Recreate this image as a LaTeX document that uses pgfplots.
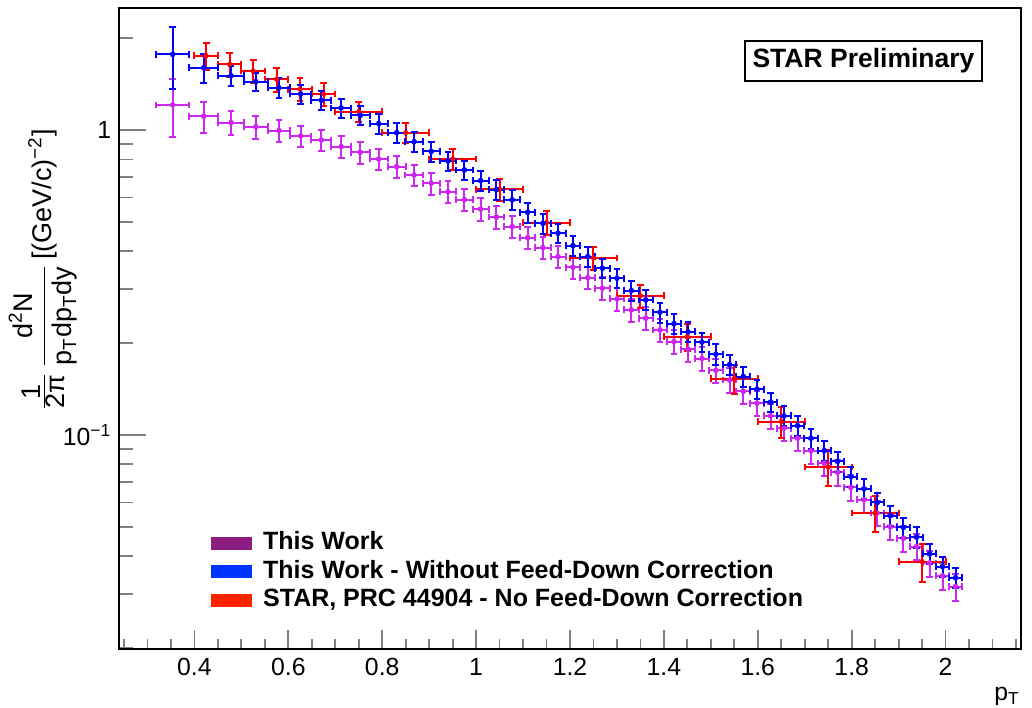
\documentclass[border=0pt]{standalone}
\usepackage{fontspec}
\setmainfont{Liberation Sans}
\usepackage{pgfplots}
\pgfplotsset{compat=1.18}
\definecolor{cpurple}{RGB}{204,40,240}
\definecolor{cblue}{RGB}{0,0,255}
\definecolor{cred}{RGB}{255,0,0}
\definecolor{lpurple}{RGB}{140,30,130}
\definecolor{lblue}{RGB}{0,51,255}
\definecolor{lred}{RGB}{255,34,0}
\begin{document}
\begin{tikzpicture}
\useasboundingbox (-59.65pt,-28.85pt) rectangle (456.35pt,324.65pt);
\begin{axis}[
  at={(0pt,0pt)}, anchor=south west,
  scale only axis, width=450.7pt, height=320.5pt,
  ymode=log,
  xmin=0.24, xmax=2.16, ymin=0.0198, ymax=2.506,
  axis line style={line width=1pt},
  tick align=inside, tick pos=left,
  xtick={0.4,0.6,0.8,1,1.2,1.4,1.6,1.8,2},
  minor xtick={0.25,0.3,0.35,0.45,0.5,0.55,0.65,0.7,0.75,0.85,0.9,0.95,1.05,1.1,1.15,1.25,1.3,1.35,1.45,1.5,1.55,1.65,1.7,1.75,1.85,1.9,1.95,2.05,2.1,2.15},
  ytick={0.1,1},
  yticklabels={10\textsuperscript{−1},1},
  minor ytick={0.02,0.03,0.04,0.05,0.06,0.07,0.08,0.09,0.2,0.3,0.4,0.5,0.6,0.7,0.8,0.9,2},
  xtick style={line width=0.9pt, /pgfplots/major tick length=9.5pt, /pgfplots/minor tick length=5pt},
  ytick style={line width=0.9pt, /pgfplots/major tick length=13.5pt, /pgfplots/minor tick length=6.7pt},
  /pgf/number format/assume math mode=true,
  tick label style={font=\fontsize{12.4pt}{14pt}\selectfont},
  xticklabel style={yshift=-1pt},
  yticklabel style={xshift=-0.5pt},
  xlabel={p\textsubscript{T}},
  xlabel style={at={(axis description cs:1,0)}, anchor=north east, font=\fontsize{12.4pt}{14pt}\selectfont, yshift=-15.5pt, xshift=3pt},
  ylabel={$\textstyle\frac{\mbox{1}}{\mbox{2π}}\,\displaystyle\frac{\mbox{d\textsuperscript{2}N}}{\mbox{p\textsubscript{T}dp\textsubscript{T}dy}}$\,[(GeV/c)\textsuperscript{−2}]},
  ylabel style={at={(axis description cs:-0.0846,0.8226)}, anchor=east, font=\fontsize{13.5pt}{16pt}\selectfont},
  legend style={at={(axis description cs:0.1017,0.1861)}, anchor=north west, draw=none, fill=none,
    font=\fontsize{12.5pt}{14pt}\selectfont\bfseries, row sep=1.85pt, column sep=5.5pt, inner sep=0pt,
    nodes={inner sep=0pt, text height=9.5pt, text depth=3pt}},
  legend cell align=left,
]
\addlegendimage{legend image code/.code={\fill[lpurple] (0pt,-3pt) rectangle (20pt,3pt);}}
\addlegendentry{This Work}
\addlegendimage{legend image code/.code={\fill[lblue] (0pt,-3pt) rectangle (20pt,3pt);}}
\addlegendentry{This Work - Without Feed-Down Correction}
\addlegendimage{legend image code/.code={\fill[lred] (0pt,-3pt) rectangle (20pt,3pt);}}
\addlegendentry{STAR, PRC 44904 - No Feed-Down Correction}

% purple: This Work
\addplot[forget plot, cpurple, only marks, mark=*, mark size=1.2pt,
  error bars/.cd, x dir=both, x explicit, y dir=both, y explicit,
  error bar style={line width=1pt},
  error mark options={rotate=90, mark size=1.7pt, line width=1pt}]
  table[x=x, y=y, x error=ex, y error=ey] {
x y ex ey
0.3537 1.208 0.0355 0.26
0.4198 1.109 0.0306 0.13
0.4779 1.057 0.0276 0.098
0.5309 1.025 0.0254 0.09
0.5800 0.995 0.0238 0.083
0.6263 0.956 0.0225 0.078
0.6704 0.927 0.0215 0.075
0.7125 0.882 0.0207 0.072
0.7532 0.845 0.0200 0.069
0.7925 0.803 0.0194 0.066
0.8307 0.758 0.0189 0.062
0.8680 0.712 0.0184 0.058
0.9044 0.669 0.0180 0.055
0.9401 0.627 0.0177 0.052
0.9751 0.591 0.0173 0.049
1.0095 0.550 0.0171 0.046
1.0434 0.518 0.0168 0.043
1.0768 0.482 0.0166 0.040
1.1098 0.4434 0.0164 0.037
1.1423 0.4112 0.0162 0.034
1.1745 0.3842 0.0160 0.032
1.2063 0.3547 0.0158 0.030
1.2378 0.3279 0.0157 0.028
1.2691 0.3027 0.0155 0.026
1.3000 0.2792 0.0154 0.024
1.3307 0.2570 0.0153 0.022
1.3612 0.2413 0.0152 0.021
1.3915 0.2209 0.0151 0.019
1.4215 0.2022 0.0150 0.018
1.4514 0.1910 0.0149 0.017
1.4811 0.1780 0.0148 0.016
1.5106 0.1628 0.0147 0.015
1.5399 0.1514 0.0146 0.014
1.5691 0.1390 0.0146 0.013
1.5982 0.1270 0.0145 0.012
1.6271 0.1154 0.0144 0.011
1.6559 0.1052 0.0144 0.0100
1.6846 0.0975 0.0143 0.0092
1.7132 0.0886 0.0143 0.0084
1.7416 0.0808 0.0142 0.0077
1.7699 0.0754 0.0141 0.0072
1.7982 0.0672 0.0141 0.0064
1.8263 0.0612 0.0141 0.0058
1.8544 0.0554 0.0140 0.0053
1.8824 0.0500 0.0140 0.0048
1.9103 0.0458 0.0139 0.0044
1.9381 0.0430 0.0139 0.0042
1.9658 0.0380 0.0139 0.0037
1.9935 0.0345 0.0138 0.0034
2.0211 0.0318 0.0138 0.0032
};

% red: STAR PRC
\addplot[forget plot, cred, only marks, mark=*, mark size=1.1pt,
  error bars/.cd, x dir=both, x explicit, y dir=both, y explicit,
  error bar style={line width=1pt},
  error mark options={rotate=90, mark size=1.7pt, line width=1pt}]
  table[x=x, y=y, x error=ex, y error=ey] {
x y ex ey
0.425 1.752 0.025 0.18
0.475 1.642 0.025 0.15
0.525 1.561 0.025 0.14
0.575 1.466 0.025 0.13
0.625 1.360 0.025 0.12
0.675 1.312 0.025 0.11
0.75 1.148 0.05 0.09
0.85 0.980 0.05 0.075
0.95 0.803 0.05 0.065
1.05 0.639 0.05 0.054
1.15 0.497 0.05 0.045
1.25 0.380 0.05 0.033
1.35 0.286 0.05 0.025
1.45 0.210 0.05 0.021
1.55 0.153 0.05 0.017
1.65 0.1106 0.05 0.013
1.75 0.0784 0.05 0.0105
1.85 0.0554 0.05 0.0075
1.95 0.0384 0.05 0.0054
};

% blue: without feed-down correction
\addplot[forget plot, cblue, only marks, mark=*, mark size=1.2pt,
  error bars/.cd, x dir=both, x explicit, y dir=both, y explicit,
  error bar style={line width=1pt},
  error mark options={rotate=90, mark size=1.7pt, line width=1pt}]
  table[x=x, y=y, x error=ex, y error=ey] {
x y ex ey
0.3537 1.77 0.0355 0.41
0.4198 1.60 0.0306 0.17
0.4779 1.507 0.0276 0.115
0.5309 1.440 0.0254 0.10
0.5800 1.376 0.0238 0.10
0.6263 1.312 0.0225 0.095
0.6704 1.251 0.0215 0.09
0.7125 1.181 0.0207 0.087
0.7532 1.117 0.0200 0.082
0.7925 1.049 0.0194 0.077
0.8307 0.980 0.0189 0.072
0.8680 0.915 0.0184 0.067
0.9044 0.850 0.0180 0.063
0.9401 0.791 0.0177 0.058
0.9751 0.739 0.0173 0.054
1.0095 0.682 0.0171 0.050
1.0434 0.637 0.0168 0.047
1.0768 0.590 0.0166 0.044
1.1098 0.537 0.0164 0.040
1.1423 0.494 0.0162 0.037
1.1745 0.4585 0.0160 0.034
1.2063 0.4174 0.0158 0.031
1.2378 0.3842 0.0157 0.029
1.2691 0.352 0.0155 0.026
1.3000 0.3265 0.0154 0.024
1.3307 0.2972 0.0153 0.022
1.3612 0.2771 0.0152 0.021
1.3915 0.2525 0.0151 0.019
1.4215 0.2317 0.0150 0.017
1.4514 0.2177 0.0149 0.016
1.4811 0.2014 0.0148 0.015
1.5106 0.1839 0.0147 0.014
1.5399 0.1700 0.0146 0.013
1.5691 0.1553 0.0146 0.012
1.5982 0.1412 0.0145 0.0106
1.6271 0.1280 0.0144 0.0096
1.6559 0.1154 0.0144 0.0087
1.6846 0.1072 0.0143 0.0080
1.7132 0.0975 0.0143 0.0073
1.7416 0.0888 0.0142 0.0067
1.7699 0.0818 0.0141 0.0061
1.7982 0.0730 0.0141 0.0055
1.8263 0.0665 0.0141 0.0050
1.8544 0.0600 0.0140 0.0045
1.8824 0.0543 0.0140 0.0041
1.9103 0.0497 0.0139 0.0037
1.9381 0.0462 0.0139 0.0035
1.9658 0.0407 0.0139 0.0031
1.9935 0.0370 0.0138 0.0028
2.0211 0.0340 0.0138 0.0026
};

\node[draw, line width=1.1pt, fill=white, inner sep=0pt, minimum width=118.5pt, minimum height=20pt,
  font=\fontsize{13.25pt}{15pt}\selectfont\bfseries] at (axis description cs:0.8256,0.9178) {STAR Preliminary};
\end{axis}
\end{tikzpicture}
\end{document}
